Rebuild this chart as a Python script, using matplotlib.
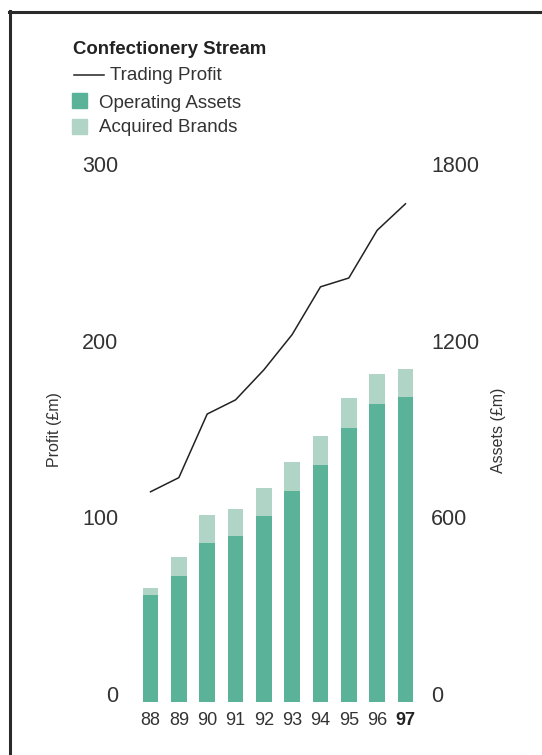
import matplotlib
matplotlib.use("Agg")
import matplotlib.pyplot as plt
import numpy as np
from matplotlib.lines import Line2D
from matplotlib.patches import Rectangle

# ---- data ----
years = ["88", "89", "90", "91", "92", "93", "94", "95", "96", "97"]
trading_profit = [119, 127, 163, 171, 188, 208, 235, 240, 267, 282]        # £m, left axis
operating_assets = [363, 427, 539, 563, 632, 715, 804, 929, 1012, 1036]    # £m, right axis
acquired_brands = [24, 65, 96, 93, 96, 100, 99, 103, 102, 95]              # £m, stacked on top

profit_ticks = [0, 100, 200, 300]
asset_ticks = [0, 600, 1200, 1800]

# ---- style ----
plt.rcParams["font.family"] = ["Liberation Sans", "DejaVu Sans"]
TXT = "#333333"
OP_COL = "#5ab299"
ACQ_COL = "#b0d4c6"

W, H = 542, 755
fig = plt.figure(figsize=(W / 100, H / 100), dpi=100)

def fx(px):
    return px / W

def fy(py):
    return 1 - py / H

ax = fig.add_axes([fx(130.7), fy(702), fx(425.3) - fx(130.7), fy(172) - fy(702)])
ax2 = ax.twinx()

x = np.arange(len(years))

# bars on the assets axis
ax2.bar(x, operating_assets, width=0.56, color=OP_COL, linewidth=0)
ax2.bar(x, acquired_brands, bottom=operating_assets, width=0.56, color=ACQ_COL, linewidth=0)

# profit line on the profit axis
ax.plot(x, trading_profit, color="#222222", linewidth=1.1)
ax.set_zorder(ax2.get_zorder() + 1)
ax.patch.set_visible(False)

for a in (ax, ax2):
    for s in a.spines.values():
        s.set_visible(False)
    a.set_xlim(-0.7, 9.7)

ax.set_ylim(0, 300)
ax2.set_ylim(0, 1800)

ax.set_yticks(profit_ticks)
ax.set_yticklabels([str(t) for t in profit_ticks])
ax2.set_yticks(asset_ticks)
ax2.set_yticklabels([str(t) for t in asset_ticks])
ax.tick_params(axis="y", length=0, pad=9.1, labelsize=15.5, labelcolor=TXT)
ax2.tick_params(axis="y", length=0, pad=4.3, labelsize=15.5, labelcolor=TXT)
for t in ax.get_yticklabels() + ax2.get_yticklabels():
    t.set_verticalalignment("baseline")

ax.set_xticks(x)
ax.set_xticklabels(years)
ax.tick_params(axis="x", length=0, pad=7, labelsize=13, labelcolor=TXT)
ax.get_xticklabels()[-1].set_fontweight("bold")
ax.get_xticklabels()[-1].set_color("#222222")
ax2.tick_params(axis="x", length=0)

# axis titles
fig.text(fx(54), fy(430), "Profit (£m)", rotation=90, ha="center", va="center",
         fontsize=11.5, color=TXT)
fig.text(fx(499), fy(430), "Assets (£m)", rotation=90, ha="center", va="center",
         fontsize=11.5, color=TXT)

# legend block, top left
fig.text(fx(73), fy(53.5), "Confectionery Stream", fontsize=13.4, fontweight="bold",
         color="#222222", va="baseline")
fig.add_artist(Line2D([fx(74), fx(104)], [fy(75), fy(75)], color="#222222",
                      linewidth=1.1, transform=fig.transFigure))
fig.text(fx(110), fy(80.5), "Trading Profit", fontsize=13.5, color=TXT, va="baseline")
fig.add_artist(Rectangle((fx(72), fy(108)), fx(15), 15 / H, color=OP_COL,
                         transform=fig.transFigure))
fig.text(fx(99), fy(107.5), "Operating Assets", fontsize=13.5, color=TXT, va="baseline")
fig.add_artist(Rectangle((fx(72), fy(134)), fx(15), 15 / H, color=ACQ_COL,
                         transform=fig.transFigure))
fig.text(fx(99), fy(131.5), "Acquired Brands", fontsize=13.5, color=TXT, va="baseline")

# frame: top and left edges only
fig.add_artist(Line2D([fx(9), 1.0], [fy(12), fy(12)], color="#2a2a2a",
                      linewidth=2.2, transform=fig.transFigure))
fig.add_artist(Line2D([fx(9.5), fx(9.5)], [0.0, fy(11)], color="#2a2a2a",
                      linewidth=2.2, transform=fig.transFigure))

fig.savefig("out.png", dpi=100)
